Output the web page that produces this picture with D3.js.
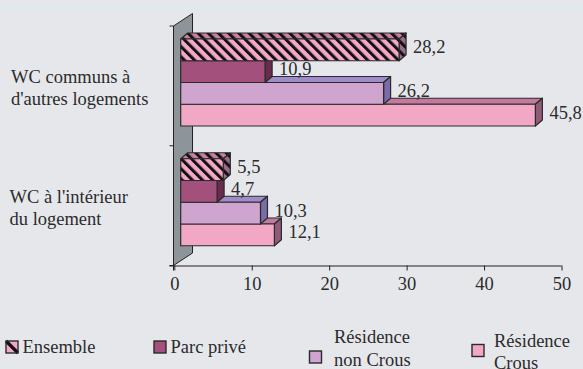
<!DOCTYPE html>
<html>
<head>
<meta charset="utf-8">
<script src="https://cdn.jsdelivr.net/npm/d3@7"></script>
<style>
  html, body { margin: 0; padding: 0; background: #e6e7eb; }
  svg { display: block; }
</style>
</head>
<body>
<svg id="chart" width="583" height="369"></svg>
<script>
// Categories (two lines each) and series
const categories = ["WC communs à d'autres logements", "WC à l'intérieur du logement"];
const categoryLines = [["WC communs à", "d'autres logements"], ["WC à l'intérieur", "du logement"]];
const seriesNames = ["Ensemble", "Parc privé", "Résidence non Crous", "Résidence Crous"];
const ensemble = [28.2, 5.5];
const parcPrive = [10.9, 4.7];
const residenceNonCrous = [26.2, 10.3];
const residenceCrous = [45.8, 12.1];
const xTicks = [0, 10, 20, 30, 40, 50];

const seriesValues = [ensemble, parcPrive, residenceNonCrous, residenceCrous];

const FONT = "'Liberation Serif', 'DejaVu Serif', Tinos, 'Times New Roman', serif";
const INK = "#2b2b2b";
const FONT_SIZE = 18.5;

// Face colours for each series: front, top, side
const styles = [
  { front: "#f4a7c6", top: "#c880a5", side: "#9a6b8c", hatch: true },
  { front: "#a3507c", top: "#7f3a5f", side: "#6a2c4e", hatch: false },
  { front: "#cfa5cf", top: "#9d8cc9", side: "#7a6ca6", hatch: false },
  { front: "#f2a8c5", top: "#c47aa0", side: "#8e5c78", hatch: false }
];

const svg = d3.select("#chart");
const defs = svg.append("defs");

function label(sel) {
  return sel.attr("font-family", FONT).style("font-family", FONT)
    .attr("font-size", FONT_SIZE).attr("fill", INK);
}

// Diagonal hatch patterns for the "Ensemble" faces
function hatch(id, bg) {
  const p = defs.append("pattern")
    .attr("id", id)
    .attr("patternUnits", "userSpaceOnUse")
    .attr("width", 7.2).attr("height", 7.2)
    .attr("patternTransform", "rotate(-45)");
  p.append("rect").attr("width", 7.2).attr("height", 7.2).attr("fill", bg);
  p.append("rect").attr("width", 3).attr("height", 7.2).attr("fill", "#111");
}
hatch("h-front", styles[0].front);
hatch("h-top", styles[0].top);
hatch("h-side", styles[0].side);

// Thin light band across the top
svg.append("rect").attr("x", 0).attr("y", 5).attr("width", 583).attr("height", 2).attr("fill", "#dcebf4");

// Scales
const x = d3.scaleLinear().domain([0, 50]).range([174.3, 561.5]);
const y = d3.scaleBand().domain(categories).range([26, 265.5]);
const yInner = d3.scaleBand().domain(seriesNames).range([13, 100]);

const depthX = 7, depthY = 6;       // bar depth offset
const frontShift = 6.4;             // front face offset from the axis origin
const wallW = 19, wallH = 12.5;     // side wall depth

const axisX = x(0) - 0.8;
const axisY = y.range()[1];

// Side wall
svg.append("path")
  .attr("d", `M${axisX},${y.range()[0]} L${axisX + wallW},${y.range()[0] - wallH} L${axisX + wallW},${axisY - wallH} L${axisX},${axisY} Z`)
  .attr("fill", "#8d959b")
  .attr("stroke", "#222")
  .attr("stroke-width", 1);

// Category-axis ticks
[y.range()[0], y.range()[0] + y.step(), axisY].forEach(t => {
  svg.append("line").attr("x1", axisX - 4).attr("x2", axisX).attr("y1", t).attr("y2", t)
    .attr("stroke", "#222").attr("stroke-width", 1);
});

// Value axis
const xAxis = d3.axisBottom(x).tickValues(xTicks).tickSize(5).tickPadding(6).tickFormat(d3.format("d"));
const gx = svg.append("g").attr("transform", `translate(0,${axisY})`).call(xAxis);
gx.attr("font-family", null).attr("font-size", null);
gx.select(".domain").attr("stroke", "#222").attr("d", `M${axisX - 4},0.5H${x(50)}`);
gx.selectAll(".tick line").attr("stroke", "#222");
gx.selectAll(".tick text").call(label);

// Vertical axis line along the wall's front edge
svg.append("line").attr("x1", axisX).attr("x2", axisX).attr("y1", y.range()[0]).attr("y2", axisY + 5)
  .attr("stroke", "#222").attr("stroke-width", 1);

const fmt = v => d3.format(".1f")(v).replace(".", ",");

// Bars, drawn from the bottom series upward so upper bars overlap lower tops
categories.forEach((cat, ci) => {
  for (let si = seriesNames.length - 1; si >= 0; si--) {
    const v = seriesValues[si][ci];
    const st = styles[si];
    const x0 = x(0) + frontShift;
    const x1 = x(v) + frontShift;
    const y0 = y(cat) + yInner(seriesNames[si]);
    const y1 = y0 + yInner.bandwidth();
    const g = svg.append("g");
    const strokeAttr = sel => sel.attr("stroke", "#2a2a2a").attr("stroke-width", 1.2).attr("stroke-linejoin", "round");
    // top face
    g.append("path")
      .attr("d", `M${x0},${y0} L${x0 + depthX},${y0 - depthY} L${x1 + depthX},${y0 - depthY} L${x1},${y0} Z`)
      .attr("fill", st.hatch ? "url(#h-top)" : st.top).call(strokeAttr);
    // side face
    g.append("path")
      .attr("d", `M${x1},${y0} L${x1 + depthX},${y0 - depthY} L${x1 + depthX},${y1 - depthY} L${x1},${y1} Z`)
      .attr("fill", st.hatch ? "url(#h-side)" : st.side).call(strokeAttr);
    // front face
    g.append("rect")
      .attr("x", x0).attr("y", y0).attr("width", x1 - x0).attr("height", y1 - y0)
      .attr("fill", st.hatch ? "url(#h-front)" : st.front).call(strokeAttr);
    // value label
    svg.append("text")
      .attr("x", x1 + depthX + 7)
      .attr("y", (y0 + y1) / 2 - depthY / 2)
      .attr("dy", "0.35em")
      .call(label)
      .text(fmt(v));
  }
});

// Category labels
categories.forEach((cat, ci) => {
  const cy = y(cat) + y.bandwidth() / 2;
  const t = svg.append("text").call(label);
  categoryLines[ci].forEach((line, li) => {
    t.append("tspan").attr("x", ci === 0 ? 11 : 9.5).attr("y", cy - 2.5 + li * 21.7).text(line);
  });
});

// Legend
const legendLayout = [
  { sx: 6, sy: 341, tx: 22.5, ty: [352.7] },
  { sx: 154, sy: 341, tx: 170.5, ty: [352.7] },
  { sx: 309.5, sy: 351, tx: 334, ty: [343.3, 365.5] },
  { sx: 472, sy: 344.5, tx: 494, ty: [346.7, 368.5] }
];
const legendLines = [["Ensemble"], ["Parc privé"], ["Résidence", "non Crous"], ["Résidence", "Crous"]];
legendLayout.forEach((L, i) => {
  const g = svg.append("g");
  const s = 12;
  g.append("rect").attr("x", L.sx).attr("y", L.sy).attr("width", s).attr("height", s)
    .attr("fill", styles[i].front);
  if (styles[i].hatch) {
    g.append("line").attr("x1", L.sx).attr("y1", L.sy).attr("x2", L.sx + s).attr("y2", L.sy + s)
      .attr("stroke", "#111").attr("stroke-width", 3.2);
  }
  g.append("rect").attr("x", L.sx).attr("y", L.sy).attr("width", s).attr("height", s)
    .attr("fill", "none").attr("stroke", "#2a2a2a").attr("stroke-width", 1.4);
  const t = g.append("text").call(label);
  legendLines[i].forEach((line, li) => t.append("tspan").attr("x", L.tx).attr("y", L.ty[li]).text(line));
});
</script>
</body>
</html>
